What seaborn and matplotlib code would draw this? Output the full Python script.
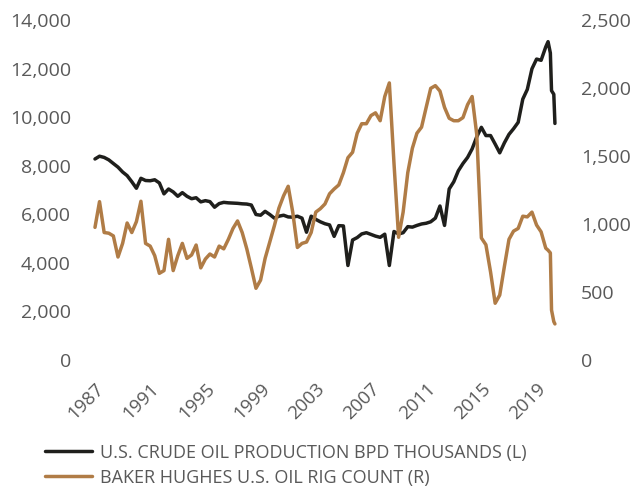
import seaborn as sns
import matplotlib.pyplot as plt
import numpy as np
import pandas as pd

# values: every 4 months from Jan 1987, monthly at the end
crude_production = [
    8236, 8350, 8300, 8200, 8050, 7900, 7700, 7550, 7300, 7030,
    7440, 7350, 7340, 7380, 7250, 6800, 7000, 6880, 6700, 6850,
    6700, 6600, 6640, 6470, 6520, 6480, 6250, 6400, 6450, 6430,
    6420, 6410, 6390, 6380, 6340, 5950, 5920, 6080, 5950, 5800,
    5880, 5920, 5850, 5840, 5880, 5800, 5220, 5880, 5750, 5650,
    5570, 5520, 5050, 5490, 5480, 3850, 4900, 5000, 5150, 5200,
    5130, 5060, 5010, 5140, 3850, 5250, 5150, 5200, 5450, 5430,
    5500, 5560, 5590, 5650, 5800, 6300, 5500, 7000, 7300, 7750,
    8050, 8300, 8650, 9150, 9540, 9200, 9200, 8850, 8490, 8900,
    9250, 9480, 9745, 10700, 11100, 11950, 12350, 12300, 12850,
    13067, 12600, 11050, 10900, 9700,
]
rig_count = [
    968, 1157, 930, 925, 905, 750, 850, 1000, 930, 1010,
    1160, 850, 830, 760, 630, 650, 880, 650, 760, 850,
    740, 765, 838, 670, 735, 772, 750, 830, 810, 880,
    960, 1015, 930, 810, 670, 520, 580, 740, 860, 980,
    1110, 1200, 1270, 1080, 820, 850, 860, 930, 1080, 1105,
    1140, 1215, 1250, 1280, 1370, 1480, 1520, 1660, 1730, 1730,
    1790, 1810, 1752, 1930, 2030, 1440, 895, 1080, 1370, 1550,
    1660, 1705, 1850, 1990, 2010, 1970, 1850, 1770, 1752, 1752,
    1775, 1870, 1930, 1650, 890, 840, 640, 410, 470, 680,
    880, 940, 960, 1050, 1045, 1080, 985, 935, 815,
    800, 780, 360, 275, 258,
]
late_dates = ['2019-11-01', '2020-01-01', '2020-02-01', '2020-04-01', '2020-05-01']
year_labels = ['1987', '1991', '1995', '1999', '2003', '2007', '2011', '2015', '2019']

dates = pd.date_range('1987-01-01', '2019-09-01', freq='4MS').append(pd.to_datetime(late_dates))
df = pd.DataFrame({'date': dates, 'production': crude_production, 'rigs': rig_count})

sns.set_theme(style='white')
plt.rcParams['font.family'] = ['Open Sans', 'DejaVu Sans']
grey = '#595959'
black = '#1f1f1c'
brown = '#b07c46'

fig = plt.figure(figsize=(6.32, 4.89), dpi=100)
ax = fig.add_axes([0.143, 0.2638, 0.7497, 0.6953])
ax2 = ax.twinx()

sns.lineplot(data=df, x='date', y='production', ax=ax, color=black, linewidth=2.5)
sns.lineplot(data=df, x='date', y='rigs', ax=ax2, color=brown, linewidth=2.5)

ax.set_xlim(pd.Timestamp('1986-09-01'), pd.Timestamp('2021-01-01'))
ax.set_ylim(0, 14000)
ax2.set_ylim(0, 2500)
ax.set_yticks(np.arange(0, 14001, 2000))
ax2.set_yticks(np.arange(0, 2501, 500))
ax.yaxis.set_major_formatter(plt.FuncFormatter(lambda v, p: f'{v:,.0f}'))
ax2.yaxis.set_major_formatter(plt.FuncFormatter(lambda v, p: f'{v:,.0f}'))

ax.set_xticks(pd.to_datetime([y + '-01-01' for y in year_labels]))
ax.set_xticklabels(year_labels, rotation=45, ha='right', va='top', rotation_mode='anchor')

for a in (ax, ax2):
    a.set_xlabel('')
    a.set_ylabel('')
    for s in a.spines.values():
        s.set_visible(False)
    a.tick_params(length=0, labelsize=14, colors=grey)
ax.tick_params(axis='x', labelsize=13.5, pad=14)
ax.tick_params(axis='y', pad=14)
ax2.tick_params(axis='y', pad=12)

handles = [plt.Line2D([], [], color=black, linewidth=2.5),
           plt.Line2D([], [], color=brown, linewidth=2.5)]
fig.legend(handles, ['U.S. CRUDE OIL PRODUCTION BPD THOUSANDS (L)',
                     'BAKER HUGHES U.S. OIL RIG COUNT (R)'],
           loc='upper left', bbox_to_anchor=(0.057, 0.11), frameon=False,
           fontsize=13, labelcolor=grey, handlelength=2.6, handletextpad=0.45,
           labelspacing=0.38, borderpad=0)

fig.savefig('out.png', dpi=100)
